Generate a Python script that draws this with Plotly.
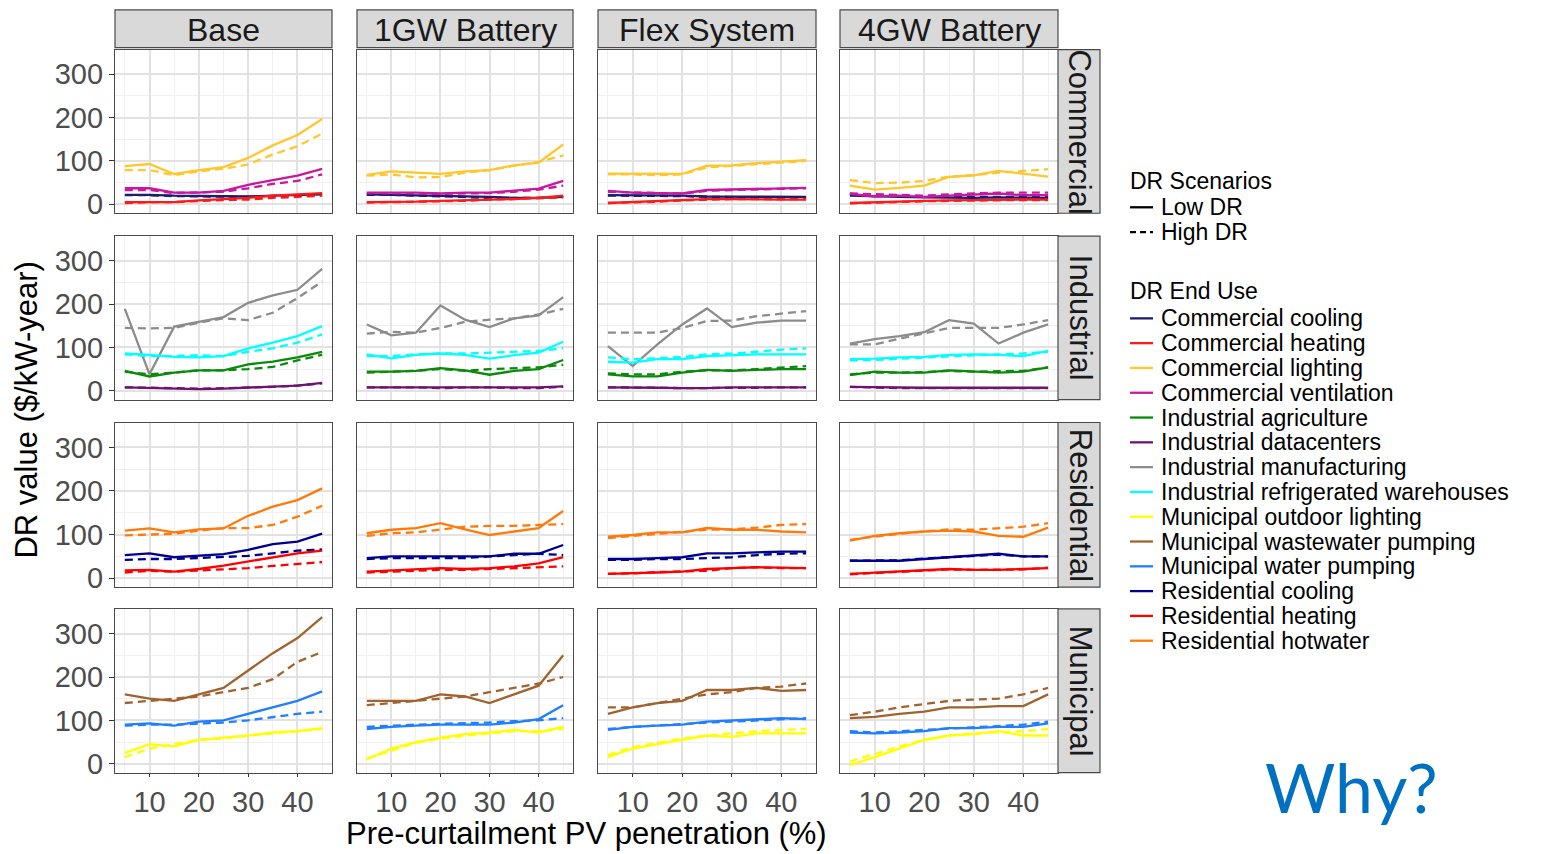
import plotly.graph_objects as go
from plotly.subplots import make_subplots

# ---------------------------------------------------------------- data
pv_penetration = [5, 10, 15, 20, 25, 30, 35, 40, 45]
systems = ["Base", "1GW Battery", "Flex System", "4GW Battery"]
sectors = ["Commercial", "Industrial", "Residential", "Municipal"]
y_ticks = [0, 100, 200, 300]
x_ticks = [10, 20, 30, 40]

# each end use: system -> (Low DR, High DR) values in $/kW-year
commercial_cooling = {
    "Base":        ([22, 22, 20, 19, 18, 18, 20, 22, 23], [21, 21, 19, 18, 17, 17, 19, 21, 22]),
    "1GW Battery": ([23, 22, 21, 20, 18, 17, 15, 15, 17], [22, 22, 20, 19, 17, 14, 14, 15, 17]),
    "Flex System": ([21, 21, 20, 20, 18, 18, 18, 17, 17], [20, 20, 19, 19, 17, 17, 17, 16, 16]),
    "4GW Battery": ([20, 18, 17, 16, 15, 15, 16, 16, 15], [24, 21, 19, 18, 17, 17, 17, 17, 17]),
}
commercial_heating = {
    "Base":        ([5, 5, 5, 9, 12, 15, 20, 23, 26], [3, 5, 5, 8, 10, 11, 15, 17, 20]),
    "1GW Battery": ([5, 5, 6, 8, 9, 11, 12, 15, 20], [4, 5, 5, 6, 8, 11, 12, 14, 16]),
    "Flex System": ([3, 5, 7, 10, 12, 12, 11, 11, 11], [3, 4, 6, 9, 11, 12, 12, 12, 12]),
    "4GW Battery": ([3, 5, 6, 8, 9, 10, 10, 11, 11], [2, 4, 5, 7, 8, 9, 10, 10, 10]),
}
commercial_lighting = {
    "Base":        ([88, 93, 70, 79, 86, 107, 136, 160, 197], [79, 79, 67, 76, 82, 92, 115, 134, 163]),
    "1GW Battery": ([68, 76, 73, 70, 76, 79, 90, 96, 138], [66, 69, 62, 63, 73, 79, 89, 98, 113]),
    "Flex System": ([71, 71, 71, 70, 89, 90, 95, 98, 102], [69, 69, 67, 69, 85, 89, 92, 96, 100]),
    "4GW Battery": ([43, 34, 38, 43, 63, 67, 77, 70, 64], [56, 49, 50, 54, 64, 67, 73, 77, 81]),
}
commercial_ventilation = {
    "Base":        ([37, 37, 27, 27, 31, 45, 56, 66, 82], [33, 33, 26, 27, 29, 37, 47, 54, 69]),
    "1GW Battery": ([27, 27, 27, 25, 27, 27, 31, 36, 54], [26, 26, 25, 24, 25, 26, 29, 34, 43]),
    "Flex System": ([31, 27, 26, 25, 33, 34, 35, 37, 38], [29, 27, 26, 25, 31, 33, 34, 36, 37]),
    "4GW Battery": ([24, 18, 20, 17, 20, 23, 25, 21, 21], [25, 23, 21, 20, 23, 25, 27, 27, 27]),
}
industrial_agriculture = {
    "Base":        ([46, 33, 42, 47, 47, 61, 67, 77, 90], [44, 38, 42, 47, 47, 50, 55, 70, 83]),
    "1GW Battery": ([44, 44, 46, 52, 47, 37, 46, 50, 71], [42, 44, 46, 50, 46, 50, 52, 54, 60]),
    "Flex System": ([38, 33, 33, 42, 48, 46, 48, 50, 50], [40, 38, 38, 44, 47, 47, 50, 54, 57]),
    "4GW Battery": ([36, 44, 42, 42, 47, 44, 42, 44, 54], [38, 42, 42, 43, 46, 44, 45, 46, 54]),
}
industrial_datacenters = {
    "Base":        ([8, 7, 5, 4, 5, 7, 9, 12, 18], [8, 7, 5, 5, 6, 7, 9, 12, 17]),
    "1GW Battery": ([8, 8, 8, 8, 8, 8, 8, 8, 10], [8, 8, 8, 6, 8, 8, 6, 6, 9]),
    "Flex System": ([8, 8, 7, 6, 6, 8, 8, 8, 8], [8, 8, 7, 6, 6, 7, 7, 8, 8]),
    "4GW Battery": ([9, 8, 7, 7, 7, 7, 7, 7, 7], [9, 7, 6, 6, 6, 6, 6, 6, 6]),
}
industrial_manufacturing = {
    "Base":        ([189, 38, 148, 159, 170, 203, 220, 233, 281], [145, 144, 145, 157, 167, 163, 180, 214, 252]),
    "1GW Battery": ([153, 128, 134, 197, 164, 147, 167, 174, 216], [132, 136, 134, 145, 159, 164, 167, 176, 189]),
    "Flex System": ([103, 57, 107, 153, 190, 147, 157, 162, 162], [134, 134, 134, 145, 161, 162, 172, 178, 184]),
    "4GW Battery": ([109, 119, 126, 135, 163, 155, 109, 134, 153], [107, 107, 120, 132, 145, 145, 145, 153, 163]),
}
industrial_refrigerated = {
    "Base":        ([86, 83, 78, 77, 80, 98, 111, 126, 149], [84, 80, 80, 82, 80, 90, 98, 111, 130]),
    "1GW Battery": ([84, 75, 83, 86, 83, 74, 82, 88, 113], [80, 80, 84, 86, 86, 88, 90, 92, 98]),
    "Flex System": ([67, 65, 73, 73, 80, 82, 84, 84, 84], [77, 73, 75, 78, 84, 86, 90, 95, 98]),
    "4GW Battery": ([73, 74, 77, 78, 83, 84, 83, 80, 92], [70, 71, 74, 77, 80, 82, 84, 86, 90]),
}
municipal_outdoor_lighting = {
    "Base":        ([25, 45, 40, 55, 60, 65, 72, 75, 82], [15, 35, 45, 55, 58, 65, 70, 75, 80]),
    "1GW Battery": ([10, 35, 50, 60, 68, 72, 78, 72, 85], [12, 30, 48, 58, 65, 70, 75, 75, 80]),
    "Flex System": ([15, 35, 45, 55, 65, 62, 70, 70, 70], [20, 38, 48, 58, 65, 70, 75, 78, 80]),
    "4GW Battery": ([-3, 15, 35, 55, 65, 68, 75, 65, 65], [5, 22, 40, 55, 65, 70, 72, 75, 80]),
}
municipal_wastewater = {
    "Base":        ([160, 150, 145, 160, 175, 215, 255, 290, 338], [140, 145, 150, 155, 165, 175, 195, 235, 258]),
    "1GW Battery": ([145, 145, 145, 160, 155, 140, 160, 180, 250], [135, 140, 145, 150, 155, 165, 175, 185, 200]),
    "Flex System": ([115, 130, 140, 145, 170, 170, 175, 168, 170], [130, 130, 140, 150, 160, 165, 175, 178, 185]),
    "4GW Battery": ([105, 108, 115, 120, 130, 130, 133, 133, 160], [112, 120, 130, 138, 145, 148, 150, 160, 175]),
}
municipal_water = {
    "Base":        ([90, 93, 88, 97, 100, 115, 130, 145, 167], [88, 90, 90, 93, 95, 100, 108, 115, 120]),
    "1GW Battery": ([80, 85, 88, 90, 90, 90, 95, 103, 135], [85, 88, 90, 92, 93, 95, 98, 100, 105]),
    "Flex System": ([78, 85, 88, 90, 97, 100, 103, 105, 103], [80, 85, 88, 92, 95, 97, 100, 103, 105]),
    "4GW Battery": ([72, 70, 72, 75, 82, 82, 85, 85, 93], [75, 72, 75, 78, 82, 85, 88, 90, 97]),
}
residential_cooling = {
    "Base":        ([53, 57, 48, 51, 55, 65, 78, 84, 102], [42, 44, 44, 46, 48, 51, 57, 63, 66]),
    "1GW Battery": ([46, 50, 50, 50, 50, 50, 56, 56, 76], [44, 46, 46, 46, 46, 50, 53, 56, 53]),
    "Flex System": ([44, 44, 46, 48, 57, 57, 59, 61, 61], [42, 42, 44, 44, 46, 48, 53, 56, 57]),
    "4GW Battery": ([40, 40, 40, 44, 48, 51, 56, 50, 50], [40, 41, 41, 45, 48, 50, 54, 50, 50]),
}
residential_heating = {
    "Base":        ([18, 19, 15, 21, 29, 38, 48, 57, 63], [13, 17, 15, 18, 21, 23, 28, 32, 37]),
    "1GW Battery": ([15, 18, 21, 23, 21, 23, 27, 34, 48], [13, 15, 18, 19, 19, 21, 23, 25, 27]),
    "Flex System": ([10, 11, 13, 15, 21, 23, 25, 24, 23], [10, 11, 14, 15, 17, 23, 25, 23, 23]),
    "4GW Battery": ([10, 13, 15, 18, 21, 19, 19, 21, 23], [9, 12, 15, 17, 20, 19, 19, 20, 24]),
}
residential_hotwater = {
    "Base":        ([109, 114, 105, 112, 114, 143, 164, 179, 206], [98, 100, 102, 109, 115, 115, 122, 141, 166]),
    "1GW Battery": ([103, 111, 115, 126, 112, 99, 107, 115, 154], [97, 103, 105, 112, 118, 120, 120, 122, 124]),
    "Flex System": ([95, 99, 105, 105, 115, 111, 111, 107, 105], [92, 97, 102, 107, 111, 112, 116, 122, 124]),
    "4GW Battery": ([86, 97, 103, 107, 109, 107, 97, 95, 116], [88, 95, 102, 107, 112, 111, 115, 118, 126]),
}

# (legend label, colour, sector row, values)
end_uses = [
    ("Commercial cooling", "#1c1c72", "Commercial", commercial_cooling),
    ("Commercial heating", "#ff1a1a", "Commercial", commercial_heating),
    ("Commercial lighting", "#ffc72c", "Commercial", commercial_lighting),
    ("Commercial ventilation", "#c8189f", "Commercial", commercial_ventilation),
    ("Industrial agriculture", "#0a8a0a", "Industrial", industrial_agriculture),
    ("Industrial datacenters", "#6e1470", "Industrial", industrial_datacenters),
    ("Industrial manufacturing", "#8c8c8c", "Industrial", industrial_manufacturing),
    ("Industrial refrigerated warehouses", "#00ffff", "Industrial", industrial_refrigerated),
    ("Municipal outdoor lighting", "#ffff00", "Municipal", municipal_outdoor_lighting),
    ("Municipal wastewater pumping", "#a0632e", "Municipal", municipal_wastewater),
    ("Municipal water pumping", "#1f7fff", "Municipal", municipal_water),
    ("Residential cooling", "#00008f", "Residential", residential_cooling),
    ("Residential heating", "#ff0000", "Residential", residential_heating),
    ("Residential hotwater", "#ff7a0a", "Residential", residential_hotwater),
]
scenarios = [("Low DR", "solid"), ("High DR", "8px,5px")]

# ---------------------------------------------------------------- layout geometry (pixels)
W, H = 1552, 854
col_px = [(115, 332), (357, 573), (598, 816), (840, 1058)]
row_px = [(50, 215), (238, 403), (426, 592), (614, 779)]
strip_top = (10, 48)
strip_right = (1058, 1100)
FONT = "Liberation Sans, Arial, sans-serif"


def px(x):
    return x / W


def py(y):
    return 1 - y / H


fig = make_subplots(rows=4, cols=4)

for name, colour, sector, series in end_uses:
    r = sectors.index(sector) + 1
    for c, system in enumerate(systems, start=1):
        low, high = series[system]
        for (scen, dash), vals in zip(scenarios, (low, high)):
            fig.add_trace(
                go.Scatter(
                    x=pv_penetration, y=vals, mode="lines",
                    line=dict(color=colour, width=2.3, dash=dash),
                    name=f"{name} ({scen})", showlegend=False,
                    hoverinfo="x+y+name",
                ),
                row=r, col=c,
            )

grid_major = "#e2e2e2"
grid_minor = "#f0f0f0"
border = "#4a4a4a"
tick_font = dict(family=FONT, size=29, color="#4d4d4d")

for r in range(1, 5):
    for c in range(1, 5):
        idx = (r - 1) * 4 + c
        xa = "xaxis" if idx == 1 else f"xaxis{idx}"
        ya = "yaxis" if idx == 1 else f"yaxis{idx}"
        x0, x1 = col_px[c - 1]
        y0, y1 = row_px[r - 1]
        fig.layout[xa].update(
            domain=[px(x0), px(x1)], range=[3, 47],
            tickvals=x_ticks, showticklabels=(r == 4),
            ticks="outside" if r == 4 else "", ticklen=3, tickwidth=1, tickcolor="#333333",
            tickfont=tick_font,
            showgrid=True, gridcolor=grid_major, gridwidth=1.6,
            minor=dict(tickvals=[5, 15, 25, 35, 45], showgrid=True,
                       gridcolor=grid_minor, gridwidth=1, ticks=""),
            zeroline=False, showline=True, mirror=True,
            linecolor=border, linewidth=1.2,
        )
        fig.layout[ya].update(
            domain=[py(y1), py(y0)], range=[-20.6, 357],
            tickvals=y_ticks, showticklabels=(c == 1),
            ticks="outside" if c == 1 else "", ticklen=5, tickwidth=1, tickcolor="#333333",
            tickfont=tick_font,
            showgrid=True, gridcolor=grid_major, gridwidth=1.6,
            minor=dict(tickvals=[50, 150, 250], showgrid=True,
                       gridcolor=grid_minor, gridwidth=1, ticks=""),
            zeroline=False, showline=True, mirror=True,
            linecolor=border, linewidth=1.2,
        )

shapes = []
annotations = []

# facet strips: systems across the top, sectors down the right
for (x0, x1), system in zip(col_px, systems):
    shapes.append(dict(type="rect", xref="paper", yref="paper",
                       x0=px(x0), x1=px(x1), y0=py(strip_top[1]), y1=py(strip_top[0]),
                       fillcolor="#d9d9d9", line=dict(color=border, width=1.2)))
    annotations.append(dict(xref="paper", yref="paper", x=px((x0 + x1) / 2),
                            y=py((strip_top[0] + strip_top[1]) / 2 + 1), text=system,
                            showarrow=False, xanchor="center", yanchor="middle",
                            font=dict(family=FONT, size=32, color="#1a1a1a")))
for (y0, y1), sector in zip(row_px, sectors):
    shapes.append(dict(type="rect", xref="paper", yref="paper",
                       x0=px(strip_right[0]), x1=px(strip_right[1]), y0=py(y1), y1=py(y0),
                       fillcolor="#d9d9d9", line=dict(color=border, width=1.2)))
    annotations.append(dict(xref="paper", yref="paper",
                            x=px((strip_right[0] + strip_right[1]) / 2 + 1),
                            y=py((y0 + y1) / 2), text=sector, textangle=90,
                            showarrow=False, xanchor="center", yanchor="middle",
                            font=dict(family=FONT, size=31, color="#1a1a1a")))

# axis titles
annotations.append(dict(xref="paper", yref="paper", x=px(586), y=py(840),
                        text="Pre-curtailment PV penetration (%)", showarrow=False,
                        xanchor="center", yanchor="middle",
                        font=dict(family=FONT, size=31, color="#000000")))
annotations.append(dict(xref="paper", yref="paper", x=px(27), y=py(414),
                        text="DR value ($/kW-year)", showarrow=False, textangle=-90,
                        xanchor="center", yanchor="middle",
                        font=dict(family=FONT, size=31, color="#000000")))

# legends
LEG = 23
key_x0, key_x1, text_x = 1130, 1153, 1159
annotations.append(dict(xref="paper", yref="paper", x=px(1128), y=py(182),
                        text="DR Scenarios", showarrow=False, xanchor="left", yanchor="middle",
                        font=dict(family=FONT, size=LEG, color="#000000")))
for i, (scen, dash) in enumerate(scenarios):
    yy = 209 + 25 * i
    shapes.append(dict(type="line", xref="paper", yref="paper",
                       x0=px(key_x0), x1=px(key_x1), y0=py(yy), y1=py(yy),
                       line=dict(color="#000000", width=2.3,
                                 dash="solid" if dash == "solid" else "6px,4px")))
    annotations.append(dict(xref="paper", yref="paper", x=px(text_x), y=py(yy),
                            text=scen, showarrow=False, xanchor="left", yanchor="middle",
                            font=dict(family=FONT, size=LEG, color="#000000")))

annotations.append(dict(xref="paper", yref="paper", x=px(1128), y=py(293),
                        text="DR End Use", showarrow=False, xanchor="left", yanchor="middle",
                        font=dict(family=FONT, size=LEG, color="#000000")))
for i, (name, colour, _, _) in enumerate(end_uses):
    yy = 321 + 25 * i
    shapes.append(dict(type="line", xref="paper", yref="paper",
                       x0=px(key_x0), x1=px(key_x1), y0=py(yy), y1=py(yy),
                       line=dict(color=colour, width=2.3)))
    annotations.append(dict(xref="paper", yref="paper", x=px(text_x), y=py(yy),
                            text=name, showarrow=False, xanchor="left", yanchor="middle",
                            font=dict(family=FONT, size=LEG, color="#000000")))

annotations.append(dict(xref="paper", yref="paper", x=px(1351), y=py(793),
                        text="Why?", showarrow=False, xanchor="center", yanchor="middle",
                        font=dict(family="Lato, Open Sans, sans-serif", size=68, color="#0070c0")))

fig.update_layout(
    width=W, height=H,
    margin=dict(l=0, r=0, t=0, b=0),
    paper_bgcolor="white", plot_bgcolor="white",
    showlegend=False,
    shapes=shapes, annotations=annotations,
    font=dict(family=FONT),
)

fig.write_html("out.html")
